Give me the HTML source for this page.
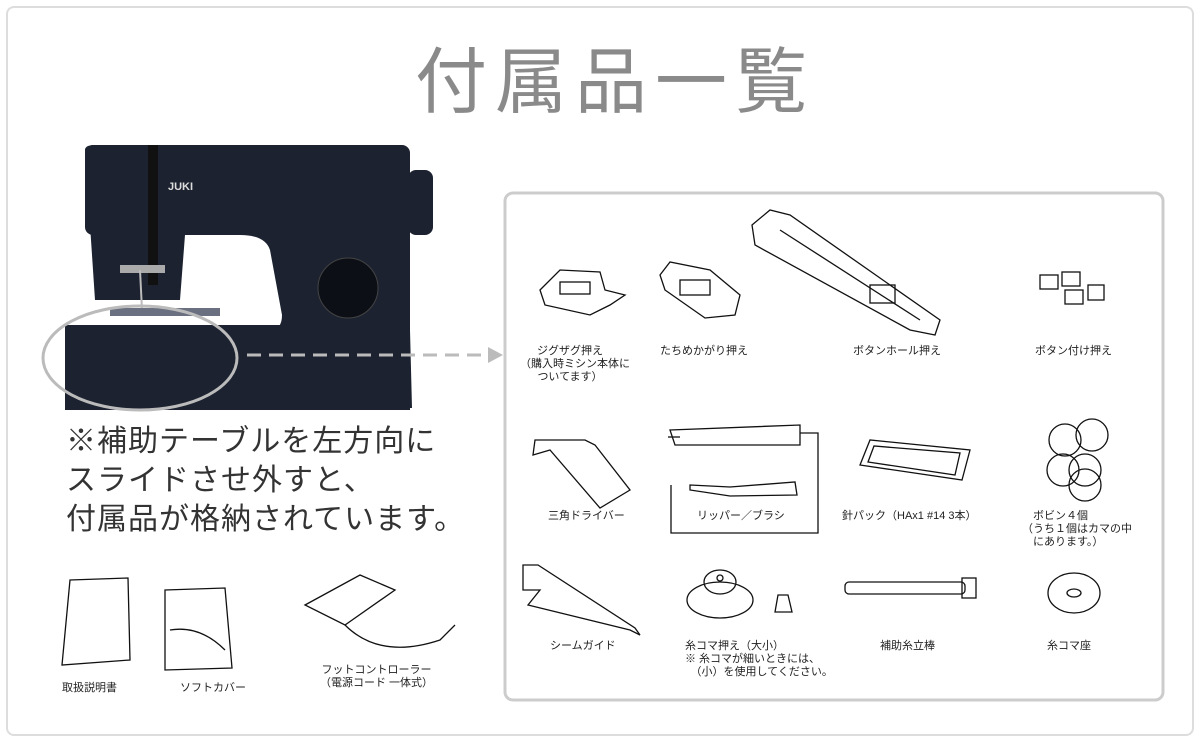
<!DOCTYPE html>
<html><head><meta charset="utf-8"><style>
body{margin:0;width:1200px;height:742px;background:#fff;overflow:hidden;position:relative;font-family:"Liberation Sans","Noto Sans CJK JP",sans-serif}
.frame{position:absolute;left:6px;top:6px;width:1184px;height:726px;border:2px solid #ddd;border-radius:8px}
.t{position:absolute;white-space:nowrap;color:#333}
.s{font-size:11px;color:#222;text-align:center;line-height:13px}
</style></head><body>
<div class="frame"></div>
<div class="t" style="left:415px;top:38px;font-size:72px;color:#8a8a8a;letter-spacing:8px;line-height:90px">付属品一覧</div>
<svg width="1200" height="742" style="position:absolute;left:0;top:0">
<!-- sewing machine -->
<g fill="#1c2230">
<path d="M85 150 Q85 145 95 145 L400 148 Q410 150 410 165 L410 330 L412 408 L65 408 L65 330 L210 330 L270 330 Q282 330 282 315 L270 250 Q265 235 240 235 L185 235 L180 300 L95 300 Z"/>
<rect x="85" y="145" width="325" height="90" rx="8"/>
<path d="M290 200 Q305 195 308 215 L318 330 L410 330 L410 230 Z"/>
<rect x="408" y="170" width="25" height="65" rx="8"/>
<rect x="65" y="325" width="345" height="85"/>
</g>
<rect x="290" y="230" width="30" height="100" fill="#1c2230"/>
<circle cx="348" cy="288" r="30" fill="#0c0f16" stroke="#444"/>
<text x="168" y="190" fill="#ddd" font-size="11" font-weight="bold" font-family="Liberation Sans">JUKI</text>
<rect x="148" y="145" width="10" height="140" fill="#111"/>
<rect x="120" y="265" width="45" height="8" fill="#aaa"/>
<line x1="140" y1="270" x2="142" y2="310" stroke="#bbb" stroke-width="2"/>
<rect x="110" y="308" width="110" height="8" fill="#6a7080"/>
<ellipse cx="140" cy="358" rx="97" ry="52" fill="none" stroke="#bbb" stroke-width="3"/>
<line x1="247" y1="355" x2="490" y2="355" stroke="#bbb" stroke-width="3" stroke-dasharray="14 8"/>
<path d="M488 347 L503 355 L488 363 Z" fill="#bbb"/>
<rect x="505" y="193" width="658" height="507" rx="8" fill="none" stroke="#ccc" stroke-width="3"/>
<!-- items -->
<g fill="none" stroke="#111" stroke-width="1.3">
<path d="M540 290 L560 270 L600 272 L605 290 L625 295 L610 305 L590 315 L545 305 Z"/><rect x="560" y="282" width="30" height="12"/>
<path d="M660 275 L670 262 L710 270 L740 295 L735 315 L705 318 L665 290 Z"/><rect x="680" y="280" width="30" height="15"/>
<path d="M752 225 L770 210 L790 215 L940 320 L935 335 L910 330 L755 245 Z"/><path d="M780 230 L920 320"/><rect x="870" y="285" width="25" height="18"/>
<rect x="1040" y="275" width="18" height="14"/><rect x="1062" y="272" width="18" height="14"/><rect x="1065" y="290" width="18" height="14"/><rect x="1088" y="285" width="16" height="15"/>
<path d="M533 455 L550 450 L600 508 L630 490 L595 445 L585 440 L535 440 Z"/>
<path d="M670 430 L800 425 L800 445 L675 445 Z"/><path d="M668 437 L680 437"/>
<path d="M800 433 L818 433 L818 533 L671 533 L671 485"/>
<path d="M690 485 L730 487 L795 482 L797 495 L730 496 L690 490 Z"/>
<path d="M860 465 L870 440 L970 450 L962 480 Z"/><path d="M868 462 L874 446 L960 453 L955 475 Z"/>
<circle cx="1065" cy="440" r="16"/><circle cx="1092" cy="435" r="16"/><circle cx="1063" cy="470" r="16"/><circle cx="1085" cy="470" r="16"/><circle cx="1085" cy="485" r="16"/>
<path d="M523 565 L538 565 L635 628 L640 635 L630 630 L528 605 L540 590 L523 590 Z"/>
<ellipse cx="720" cy="600" rx="33" ry="18"/><ellipse cx="720" cy="582" rx="16" ry="12"/><circle cx="720" cy="578" r="3"/>
<path d="M775 612 L778 595 L788 595 L792 612 Z"/>
<rect x="845" y="582" width="120" height="12" rx="4"/><rect x="962" y="578" width="14" height="20"/>
<ellipse cx="1074" cy="593" rx="26" ry="20"/><ellipse cx="1074" cy="593" rx="7" ry="4"/>
<!-- bottom items -->
<path d="M70 580 L128 578 L130 660 L62 665 Z"/>
<path d="M165 590 L225 588 L232 668 L165 670 Z"/><path d="M170 630 Q200 625 225 650"/>
<path d="M305 605 L360 575 L395 590 L345 625 Z"/><path d="M345 625 Q380 660 440 640 L455 625"/>
</g>
</svg>
<div class="t" style="left:66px;top:422px;font-size:30px;line-height:39px;letter-spacing:1px">※補助テーブルを左方向に<br>スライドさせ外すと、<br>付属品が格納されています。</div>
<div class="t s" style="left:520px;top:345px;width:100px">ジグザグ押え<br>（購入時ミシン本体に<br>ついてます）</div>
<div class="t s" style="left:660px;top:345px">たちめかがり押え</div>
<div class="t s" style="left:853px;top:345px">ボタンホール押え</div>
<div class="t s" style="left:1035px;top:345px">ボタン付け押え</div>
<div class="t s" style="left:548px;top:510px">三角ドライバー</div>
<div class="t s" style="left:697px;top:510px">リッパー／ブラシ</div>
<div class="t s" style="left:842px;top:510px">針パック（HAx1 #14 3本）</div>
<div class="t s" style="left:1022px;top:510px;text-align:left">　ボビン４個<br>（うち１個はカマの中<br>　にあります。）</div>
<div class="t s" style="left:550px;top:640px">シームガイド</div>
<div class="t s" style="left:685px;top:640px;text-align:left">糸コマ押え（大小）<br>※ 糸コマが細いときには、<br>　（小）を使用してください。</div>
<div class="t s" style="left:880px;top:640px">補助糸立棒</div>
<div class="t s" style="left:1047px;top:640px">糸コマ座</div>
<div class="t s" style="left:62px;top:682px">取扱説明書</div>
<div class="t s" style="left:180px;top:682px">ソフトカバー</div>
<div class="t s" style="left:320px;top:664px">フットコントローラー<br>（電源コード 一体式）</div>
</body></html>
